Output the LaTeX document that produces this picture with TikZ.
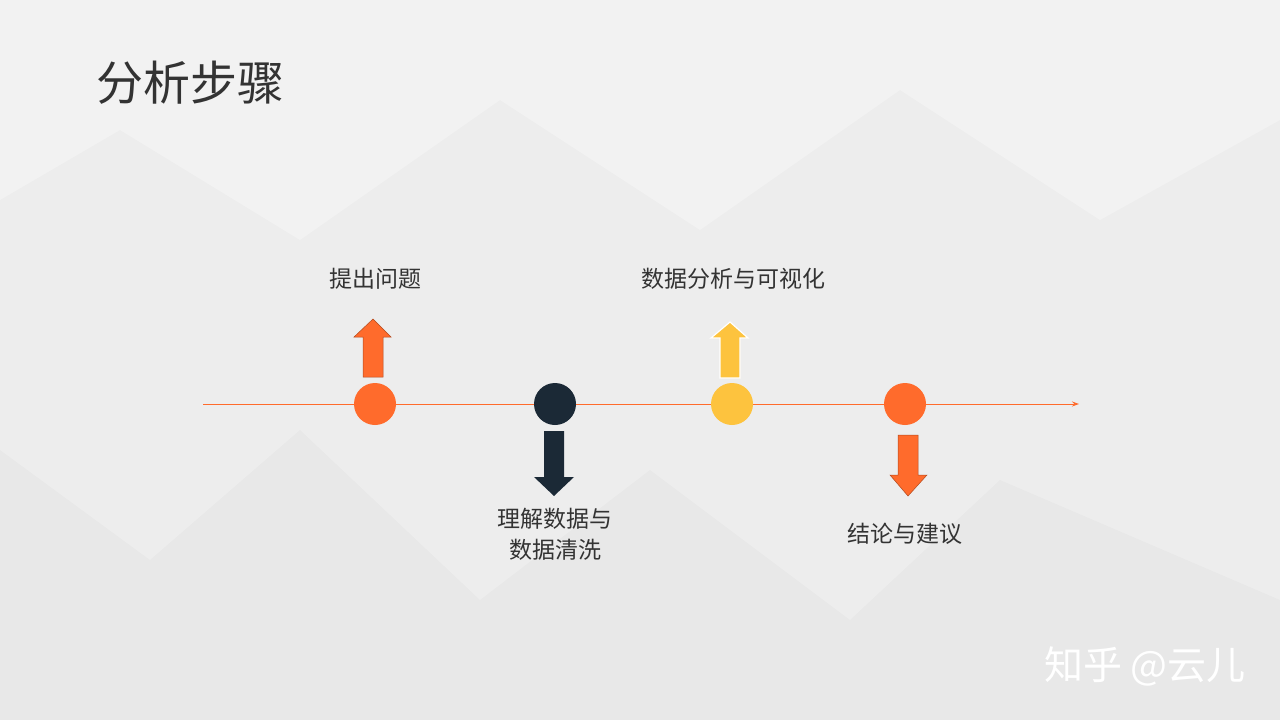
\documentclass[tikz,border=0pt]{standalone}
\usepackage{fontspec}
\newfontfamily\cjk{Noto Sans CJK SC}
\usetikzlibrary{arrows.meta}
\definecolor{bg}{HTML}{EDEDED}
\definecolor{org}{HTML}{FF6B2C}
\definecolor{dark}{HTML}{1B2936}
\definecolor{yel}{HTML}{FDC33E}
\definecolor{txt}{HTML}{333333}
\tikzset{dot/.style={circle,minimum size=42pt,inner sep=0pt},
lbl/.style={font=\cjk\fontsize{23pt}{31pt}\selectfont,text=txt,align=center}}
\begin{document}
\begin{tikzpicture}[x=1pt,y=-1pt]
\fill[bg] (0,0) rectangle (1280,720);
\fill[white,opacity=0.3] (0,0) -- (1280,0) -- (1280,120) -- (1100,220) -- (900,90) -- (700,230) -- (500,100) -- (300,240) -- (120,130) -- (0,200) -- cycle;
\fill[black,opacity=0.02] (0,720) -- (0,450) -- (150,560) -- (300,430) -- (480,600) -- (650,470) -- (850,620) -- (1000,480) -- (1280,600) -- (1280,720) -- cycle;
\node[anchor=west,font=\cjk\fontsize{47pt}{52pt}\selectfont,text=txt] (title) at (93,83) {分析步骤};
\coordinate (ls) at (203,404); \coordinate (le) at (1079,404);
\draw[org,line width=1pt,-{Stealth[length=7pt,width=5pt]}] (ls) -- (le);
\node[dot,fill=org] (c1) at (375,404) {};
\node[dot,fill=dark] (c2) at (555,404) {};
\node[dot,fill=yel] (c3) at (732,404) {};
\node[dot,fill=org] (c4) at (905,404) {};
\fill[org,draw=org!70!black,line width=0.5pt] (363,377) -- (363,337) -- (354,337) -- (373,319) -- (391,337) -- (383,337) -- (383,377) -- cycle;
\fill[dark] (544,431) -- (544,477) -- (534,477) -- (554,496) -- (574,477) -- (564,477) -- (564,431) -- cycle;
\filldraw[fill=yel,draw=white,line width=1.2pt] (720,378) -- (720,338) -- (711,338) -- (730,322) -- (748,338) -- (740,338) -- (740,378) -- cycle;
\fill[org,draw=org!70!black,line width=0.5pt] (898,435) -- (898,475) -- (890,475) -- (908,496) -- (927,475) -- (918,475) -- (918,435) -- cycle;
\node[lbl] (t1) at (375,279) {提出问题};
\node[lbl] (t2) at (555,534) {理解数据与\\数据清洗};
\node[lbl] (t3) at (733,279) {数据分析与可视化};
\node[lbl] (t4) at (905,534) {结论与建议};
\node[font=\cjk\fontsize{39pt}{44pt}\selectfont,text=white] (wm) at (1145,666) {知乎 @云儿};
\end{tikzpicture}
\end{document}
